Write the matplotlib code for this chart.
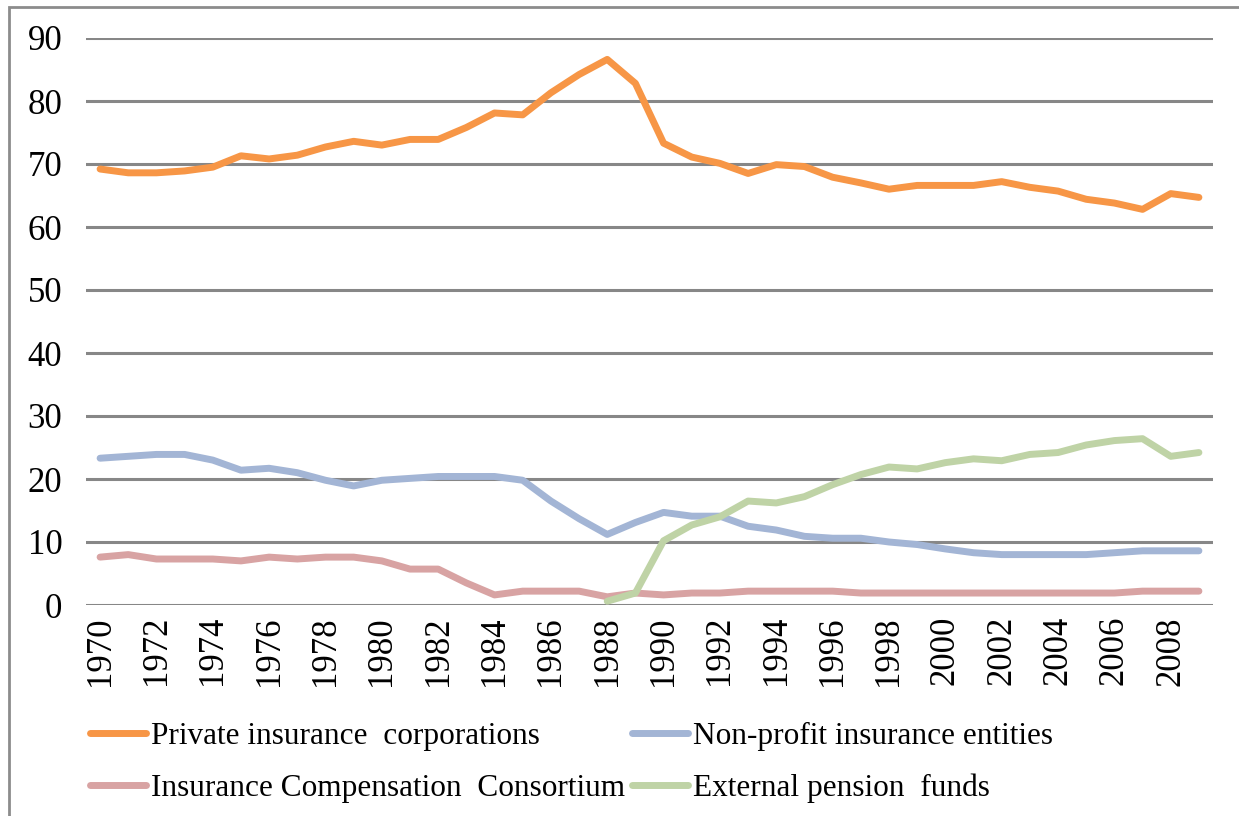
import matplotlib.pyplot as plt
from matplotlib.patches import Rectangle

# ---------------- DATA ----------------

years = list(range(1970, 2010))

private_corps = [69.2, 68.6, 68.6, 68.9, 69.5, 71.3, 70.8, 71.4, 72.7, 73.6,
                 73.0, 73.9, 73.9, 75.8, 78.1, 77.8, 81.3, 84.2, 86.6, 82.8,
                 73.3, 71.1, 70.1, 68.5, 69.9, 69.6, 67.9, 67.0, 66.0, 66.6,
                 66.6, 66.6, 67.2, 66.3, 65.7, 64.4, 63.8, 62.8, 65.3, 64.7]

non_profit = [23.3, 23.6, 23.9, 23.9, 23.0, 21.4, 21.7, 21.0, 19.8, 18.9,
              19.8, 20.1, 20.4, 20.4, 20.4, 19.8, 16.5, 13.7, 11.2, 13.1,
              14.7, 14.1, 14.1, 12.5, 11.9, 10.9, 10.6, 10.6, 10.0, 9.6,
              8.9, 8.3, 8.0, 8.0, 8.0, 8.0, 8.3, 8.6, 8.6, 8.6]

consortium = [7.6, 8.0, 7.3, 7.3, 7.3, 7.0, 7.6, 7.3, 7.6, 7.6,
              7.0, 5.7, 5.7, 3.5, 1.6, 2.2, 2.2, 2.2, 1.3, 1.9,
              1.6, 1.9, 1.9, 2.2, 2.2, 2.2, 2.2, 1.9, 1.9, 1.9,
              1.9, 1.9, 1.9, 1.9, 1.9, 1.9, 1.9, 2.2, 2.2, 2.2]

pension_years = list(range(1988, 2010))
pension_funds = [0.6, 1.9, 10.2, 12.7, 14.0, 16.5, 16.2, 17.2, 19.1, 20.7,
                 21.9, 21.6, 22.6, 23.2, 22.9, 23.9, 24.2, 25.4, 26.1, 26.4,
                 23.6, 24.2]

tick_years = list(range(1970, 2009, 2))

# ---------------- PLOT ----------------

plt.rcParams["font.family"] = ["Liberation Serif", "DejaVu Serif"]

fig = plt.figure(figsize=(12.39, 8.16), dpi=100)
ax = fig.add_axes([86 / 1239, 1 - 605 / 816, 1127 / 1239, 567 / 816])

lw = 5.0
l1, = ax.plot(years, private_corps, color="#F79646", lw=lw,
              solid_capstyle="round", label="Private insurance  corporations")
l2, = ax.plot(years, non_profit, color="#A3B5D5", lw=lw,
              solid_capstyle="round", label="Non-profit insurance entities")
l3, = ax.plot(years, consortium, color="#D8A3A3", lw=lw,
              solid_capstyle="round", label="Insurance Compensation  Consortium")
l4, = ax.plot(pension_years, pension_funds, color="#BFD3A6", lw=lw,
              solid_capstyle="round", label="External pension  funds")

ax.set_xlim(1969.5, 2009.5)
ax.set_ylim(0, 90)
ax.set_yticks(range(0, 91, 10))
ax.set_xticks(tick_years)
ax.set_xticklabels([str(y) for y in tick_years], rotation=90)
ax.tick_params(axis="both", length=0, labelsize=25)
ax.tick_params(axis="y", pad=17)
ax.tick_params(axis="x", pad=8)
ax.grid(axis="y", color="#878787", lw=2.2)
ax.set_axisbelow(True)
for s in ax.spines.values():
    s.set_visible(False)

leg = fig.legend([l1, l3, l2, l4],
                 [l1.get_label(), l3.get_label(), l2.get_label(), l4.get_label()],
                 loc="upper left", bbox_to_anchor=(90 / 1239, 1 - 722 / 816),
                 ncol=2, frameon=False, fontsize=22.5, borderpad=0,
                 borderaxespad=0, handlelength=1.8, handletextpad=0.16,
                 columnspacing=0.2, labelspacing=0.72)
for h in leg.get_lines():
    h.set_linewidth(lw)
    h.set_solid_capstyle("round")

# outer chart border, cut off at right and bottom like the source
fig.patches.append(Rectangle((9 / 1239, -0.1), 1.2, 1 - 7 / 816 + 0.1,
                             transform=fig.transFigure, fill=False,
                             edgecolor="#8C8C8C", lw=2))

fig.savefig("out.png", dpi=100)
